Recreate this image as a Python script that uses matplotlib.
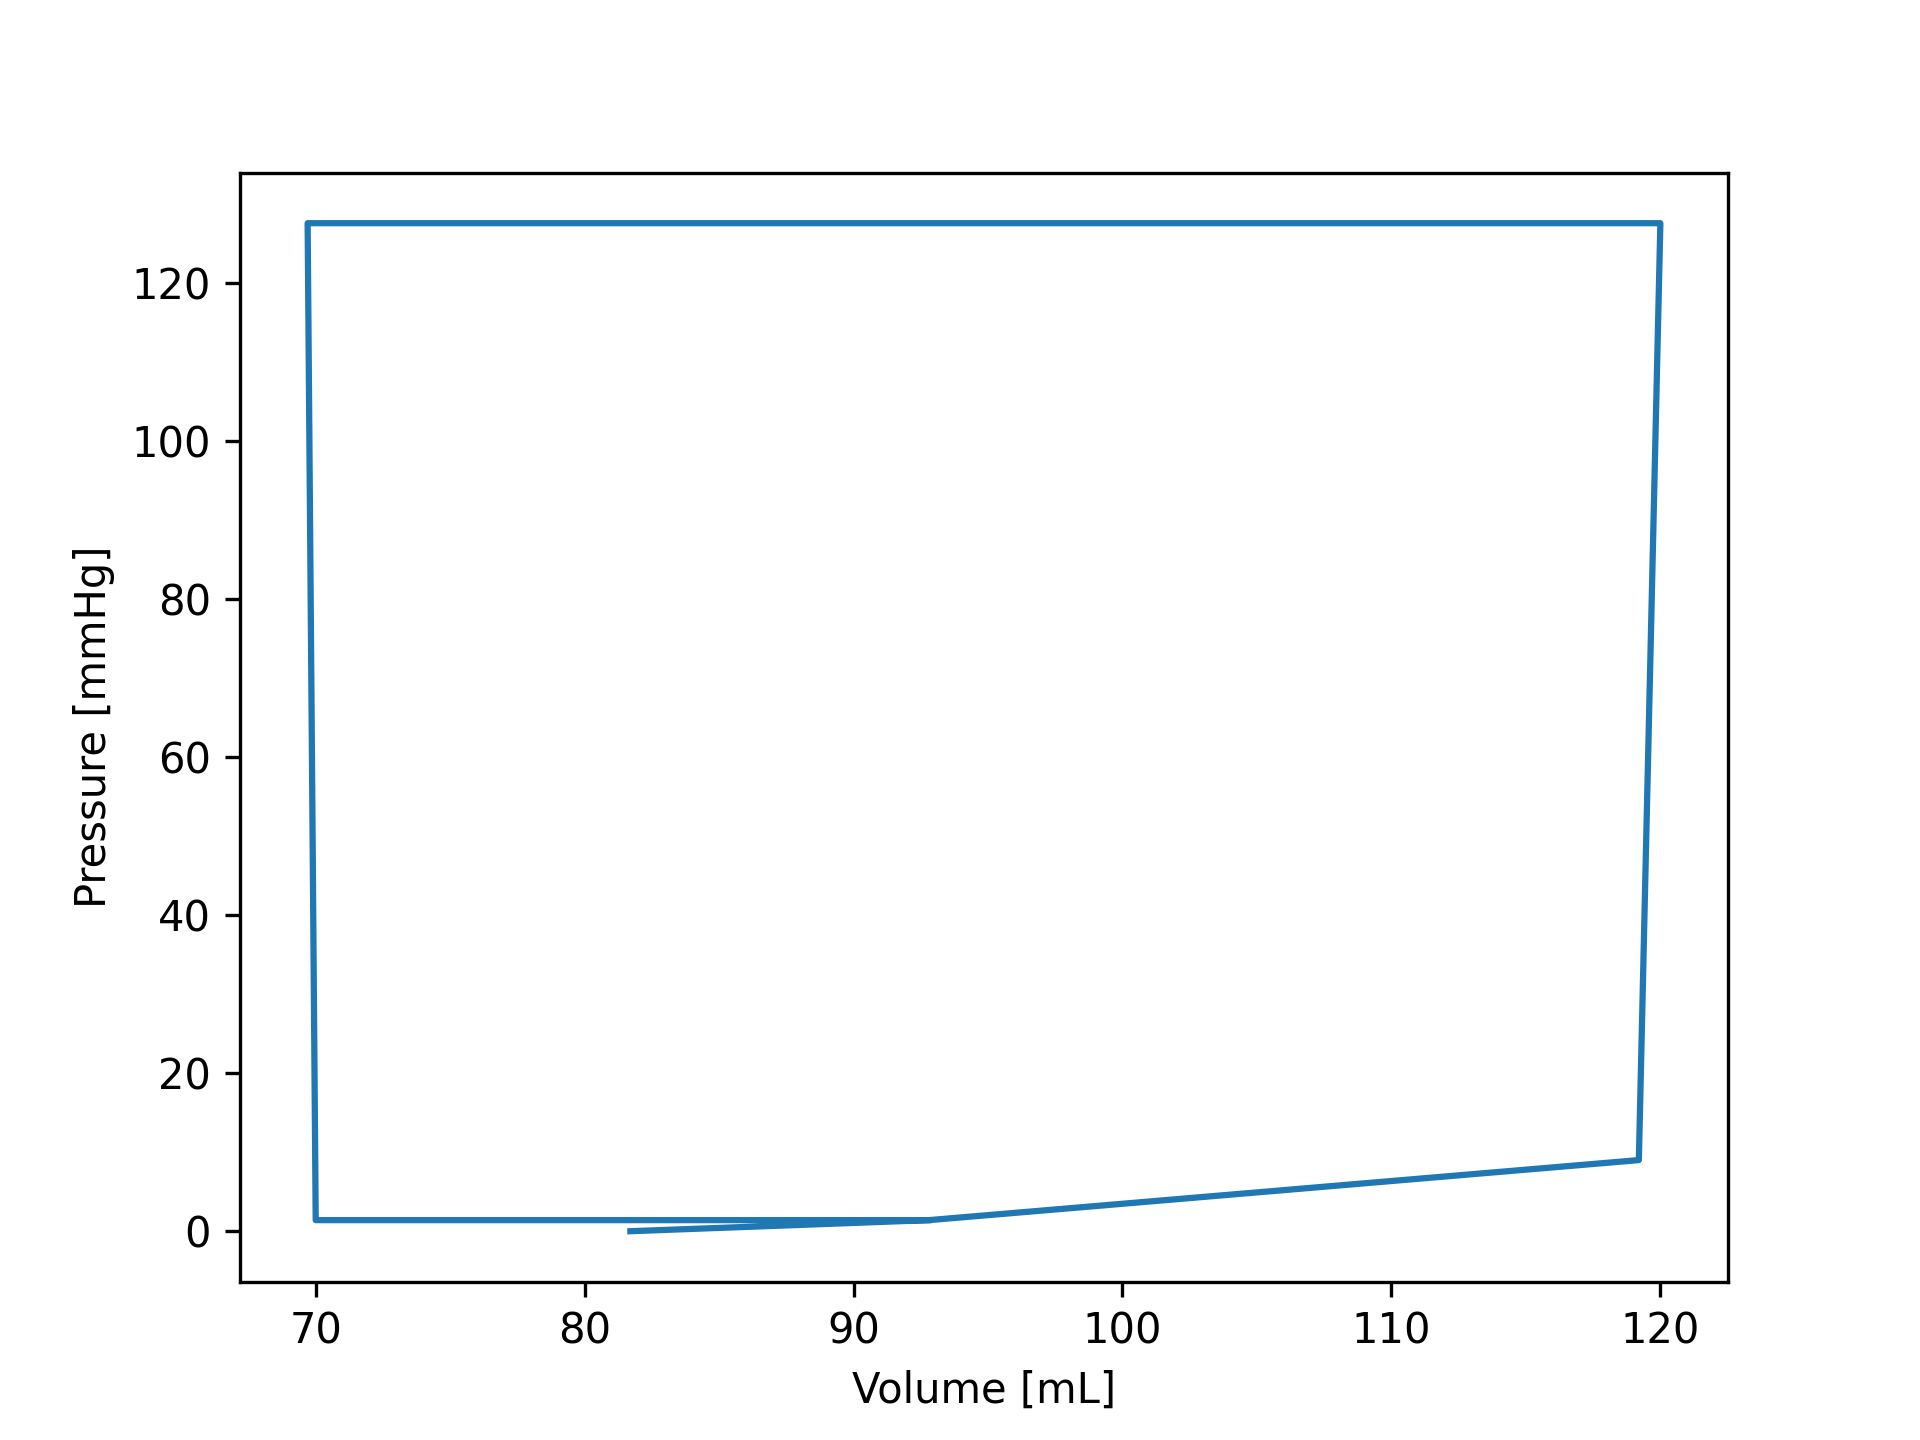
import matplotlib
matplotlib.use("Agg")
import matplotlib.pyplot as plt

volume = [81.7, 92.8, 119.2, 120.0, 69.7, 70.0, 92.8]
pressure = [0.0, 1.4, 9.0, 127.6, 127.6, 1.4, 1.4]

fig, ax = plt.subplots(figsize=(6.4, 4.8), dpi=300)
ax.plot(volume, pressure)
ax.set_xlabel("Volume [mL]")
ax.set_ylabel("Pressure [mmHg]")
fig.savefig("out.png", dpi=300)
